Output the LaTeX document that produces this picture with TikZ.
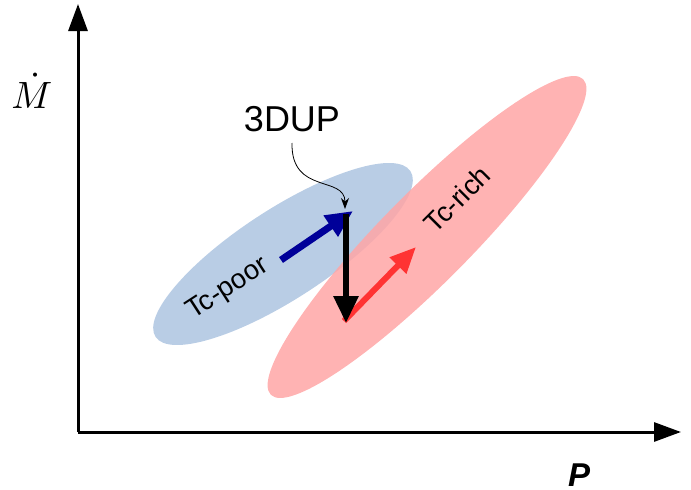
\documentclass[tikz,border=0pt]{standalone}
\usepackage{fontspec}
\setsansfont{Liberation Sans}
\usetikzlibrary{arrows.meta,shapes.geometric}
\definecolor{poorblue}{HTML}{B9CDE5}
\definecolor{richred}{HTML}{FFA6A6}
\definecolor{darkblue}{HTML}{000099}
\definecolor{brightred}{HTML}{FF3333}
\tikzset{
  axis/.style={line width=3pt, -{Triangle[length=27pt,width=19pt]}},
  blob/.style={ellipse, inner sep=0pt},
  lbl/.style={font=\sffamily\fontsize{27.5}{27.5}\selectfont, inner sep=0pt},
  bigarrow/.style={line width=#1, -{Triangle[length=27pt,width=24pt]}},
}
\begin{document}
\begin{tikzpicture}[x=1pt,y=-1pt]
\useasboundingbox (0,0) rectangle (691,490);
% ellipses
\node[blob, fill=poorblue, minimum width=304pt, minimum height=90pt, rotate=33] (poor) at (283,254) {};
\node[blob, fill=richred, fill opacity=0.85, minimum width=444pt, minimum height=90pt, rotate=45.3] (rich) at (427,237) {};
% axes
\coordinate (O) at (78,432);
\coordinate (ytip) at (78,4);
\coordinate (xtip) at (681,432);
\draw[axis] (O) -- (ytip);
\draw[axis] (O) -- (xtip);
\node[scale=3.8, inner sep=0pt] (mlab) at (32,91) {$\dot{M}$};
\node[font=\sffamily\bfseries\itshape\fontsize{33}{33}\selectfont, inner sep=0pt] (plab) at (579,475) {P};
% labels
\node[lbl, rotate=33] (tcpoor) at (228,289) {Tc-poor};
\node[lbl, rotate=45] (tcrich) at (457,199) {Tc-rich};
\node[font=\sffamily\fontsize{36}{36}\selectfont, inner sep=0pt] (dup) at (292,119) {3DUP};
% arrows
\coordinate (b0) at (281,260);
\coordinate (b1) at (353,211);
\coordinate (k0) at (346,214);
\coordinate (k1) at (346,323);
\coordinate (r0) at (344,321);
\coordinate (r1) at (416,247);
\draw[bigarrow=7pt, darkblue] (b0) -- (b1);
\draw[bigarrow=6pt, brightred, -{Triangle[length=26pt,width=22pt]}] (r0) -- (r1);
\draw[bigarrow=6pt, black] (k0) -- (k1);
% annotation
\coordinate (a1) at (345,209);
\draw[line width=0.8pt, -{Stealth[length=11pt,width=8pt]}] (292,143) .. controls (291,195) and (345,175) .. (a1);
\end{tikzpicture}
\end{document}
